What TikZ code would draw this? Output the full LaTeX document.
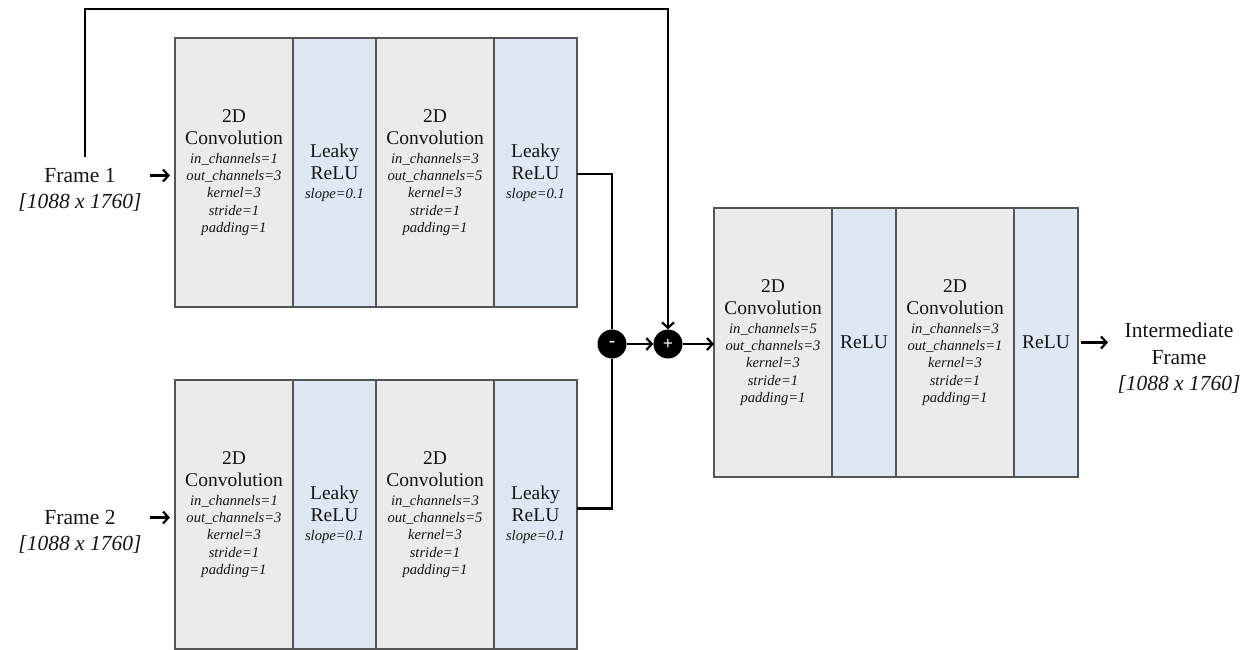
\documentclass[tikz,border=0pt]{standalone}
\usepackage{fontspec}
\setmainfont{Liberation Serif}
\usetikzlibrary{positioning,arrows.meta}
\definecolor{convgray}{HTML}{EBEBEB}
\definecolor{actblue}{HTML}{DEE8F5}
\definecolor{edgegray}{HTML}{555555}
\definecolor{txtdark}{HTML}{141414}
\tikzset{
  layer/.style={draw=edgegray, line width=1.1pt, minimum height=269pt, inner sep=0pt,
    outer sep=0pt, align=center, text=txtdark, font=\fontsize{19.5}{22}\selectfont},
  convbox/.style={layer, fill=convgray, minimum width=118pt},
  actbox/.style={layer, fill=actblue, minimum width=83pt},
  reluact/.style={layer, fill=actblue, minimum width=64pt},
  io/.style={align=center, text=txtdark, font=\fontsize{21.5}{26.5}\selectfont},
  wire/.style={line width=2.2pt, black},
  arr/.style={wire, -{Straight Barb[length=5.5pt,width=12pt]}},
  sumnode/.style={circle, fill=black, minimum size=29pt, inner sep=0pt, text=white,
    font=\bfseries\fontsize{18}{18}\selectfont}
}
\newcommand{\prm}[1]{{\fontsize{14.6}{16}\selectfont\itshape #1}}
\newcommand{\convlabel}[2]{2D\\Convolution\\[-3pt]\prm{in\_channels=#1}\\[-4.8pt]\prm{out\_channels=#2}\\[-4.8pt]\prm{kernel=3}\\[-4.8pt]\prm{stride=1}\\[-4.8pt]\prm{padding=1}}
\newcommand{\leakylabel}{Leaky\\ReLU\\[-3pt]\prm{slope=0.1}}
\begin{document}
\begin{tikzpicture}[x=1pt,y=-1pt]
  \useasboundingbox (0,0) rectangle (1255,649);
  % frame 1 branch
  \node[convbox, anchor=north west] (f1conv1) at (175,38) {\convlabel{1}{3}};
  \node[actbox, right=0pt of f1conv1] (f1act1) {\leakylabel};
  \node[convbox, right=0pt of f1act1] (f1conv2) {\convlabel{3}{5}};
  \node[actbox, right=0pt of f1conv2] (f1act2) {\leakylabel};
  % frame 2 branch
  \node[convbox, anchor=north west] (f2conv1) at (175,380) {\convlabel{1}{3}};
  \node[actbox, right=0pt of f2conv1] (f2act1) {\leakylabel};
  \node[convbox, right=0pt of f2act1] (f2conv2) {\convlabel{3}{5}};
  \node[actbox, right=0pt of f2conv2] (f2act2) {\leakylabel};
  % merged branch
  \node[convbox, anchor=north west] (mconv1) at (714,208) {\convlabel{5}{3}};
  \node[reluact, right=0pt of mconv1] (mact1) {ReLU};
  \node[convbox, right=0pt of mact1] (mconv2) {\convlabel{3}{1}};
  \node[reluact, right=0pt of mconv2] (mact2) {ReLU};
  % inputs, output, operators
  \node[io] (frame1) at (80,190) {Frame 1\\\textit{[1088 x 1760]}};
  \node[io] (frame2) at (80,532) {Frame 2\\\textit{[1088 x 1760]}};
  \node[io] (outframe) at (1179,358) {Intermediate\\Frame\\\textit{[1088 x 1760]}};
  \node[sumnode] (sub) at (612,344) {-};
  \node[sumnode] (add) at (668,344) {+};
  \coordinate (topwire) at (85,9);
  % connectors
  \draw[arr] ([xshift=-25pt,yshift=-3pt]f1conv1.west) -- ([xshift=-5pt,yshift=-3pt]f1conv1.west);
  \draw[arr] ([xshift=-25pt,yshift=-3pt]f2conv1.west) -- ([xshift=-5pt,yshift=-3pt]f2conv1.west);
  \draw[arr] ([yshift=8pt]frame1.north -| topwire) -- (topwire) -| (add.north);
  \draw[wire] ([yshift=-1.5pt]f1act2.east) -| (sub.north);
  \draw[wire] ([yshift=6pt]f2act2.east) -| (sub.south);
  \draw[arr] (sub) -- (add);
  \draw[arr] (add) -- (add -| mconv1.west);
  \draw[arr] ([xshift=3pt]mact2.east) -- ([xshift=30pt]mact2.east);
\end{tikzpicture}
\end{document}
